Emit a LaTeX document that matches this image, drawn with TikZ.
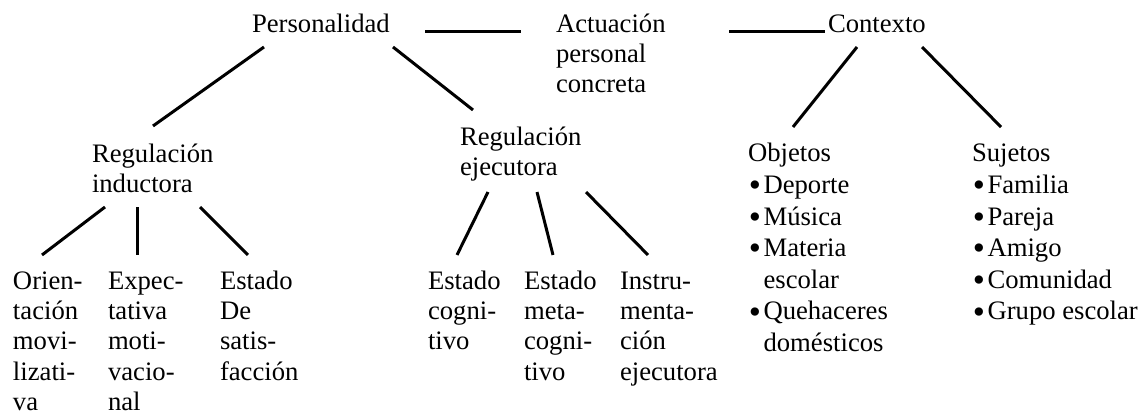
\documentclass[tikz,border=0pt]{standalone}
\usepackage{fontspec}
\setmainfont{Liberation Serif}
\usepackage{tikz}
\usetikzlibrary{positioning}
\tikzstyle{txt} = [inner sep=0pt, outer sep=0pt, align=left, anchor=north west, font=\fontsize{12}{13.7}\selectfont]
\tikzstyle{lst} = [txt, font=\fontsize{12}{14.2}\selectfont]
\tikzstyle{link} = [draw, line width=1.35pt]
\newcommand{\bul}{\makebox[7pt][l]{\hspace{0.4pt}\raisebox{-1.5pt}[0pt][0pt]{\scalebox{1.3}{\textbullet}}}}
\newcommand{\hang}{\hspace*{7pt}}

\begin{document}
\begin{tikzpicture}[auto]
\useasboundingbox (0pt,0pt) rectangle (513.45pt,-186.3pt);

% top row =============================
\node[txt] (pers) at (113.4pt,-4.815pt) {\strut Personalidad};
\node[txt, right=136.8pt of pers.north west, anchor=north west] (act) {\strut Actuación\\personal\\concreta};
\node[txt, right=122.4pt of act.north west, anchor=north west] (ctx) {\strut Contexto};

% regulation
\node[txt, below left=58.5pt and 72pt of pers.north west, anchor=north west] (rind) {\strut Regulación\\inductora};
\node[txt, below right=50.85pt and 93.6pt of pers.north west] (reje) {\strut Regulación\\ejecutora};

% context lists
\node[lst, below left=58.14pt and 36pt of ctx.north west, anchor=north west] (obj) {\strut Objetos\\\bul Deporte\\\bul Música\\\bul Materia\\\hang escolar\\\bul Quehaceres\\\hang domésticos};
\node[lst, below right=58.14pt and 64.8pt of ctx.north west] (suj) {\strut Sujetos\\\bul Familia\\\bul Pareja\\\bul Amigo\\\bul Comunidad\\\bul Grupo escolar};

% bottom row
\node[txt, below left=57.15pt and 35.55pt of rind.north west, anchor=north west] (ori) {\strut Orien-\\tación\\movi-\\lizati-\\va};
\node[txt, below right=57.15pt and 7.2pt of rind.north west] (expe) {\strut Expec-\\tativa\\moti-\\vacio-\\nal};
\node[txt, below right=57.15pt and 57.6pt of rind.north west] (sat) {\strut Estado\\De\\satis-\\facción};
\node[txt, below left=64.8pt and 14.4pt of reje.north west, anchor=north west] (cog) {\strut Estado\\cogni-\\tivo};
\node[txt, below right=64.8pt and 28.8pt of reje.north west] (meta) {\strut Estado\\meta-\\cogni-\\tivo};
\node[txt, below right=64.8pt and 72pt of reje.north west] (instr) {\strut Instru-\\menta-\\ción\\ejecutora};

%edges
\path[link] ([shift={(77.85pt,-9.14pt)}]pers.north west) -- ([shift={(-15.75pt,-9.14pt)}]act.north west);
\path[link] ([shift={(77.85pt,-9.14pt)}]act.north west) -- ([shift={(-1.35pt,-9.14pt)}]ctx.north west);

\path[link] ([shift={(5.4pt,-16.34pt)}]pers.north west) -- ([shift={(27.45pt,6.62pt)}]rind.north west);
\path[link] ([shift={(63.45pt,-16.34pt)}]pers.north west) -- ([shift={(5.85pt,6.17pt)}]reje.north west);
\path[link] ([shift={(13.05pt,-16.34pt)}]ctx.north west) -- ([shift={(20.25pt,5.8pt)}]obj.north west);
\path[link] ([shift={(42.3pt,-16.34pt)}]ctx.north west) -- ([shift={(13.05pt,5.8pt)}]suj.north west);

\path[link] ([shift={(5.85pt,-29.84pt)}]rind.north west) -- ([shift={(13.05pt,5.72pt)}]ori.north west);
\path[link] ([shift={(20.25pt,-29.84pt)}]rind.north west) -- ([shift={(13.05pt,5.72pt)}]expe.north west);
\path[link] ([shift={(48.6pt,-29.84pt)}]rind.north west) -- ([shift={(12.6pt,5.72pt)}]sat.north west);

\path[link] ([shift={(12.6pt,-30.74pt)}]reje.north west) -- ([shift={(13.05pt,5.72pt)}]cog.north west);
\path[link] ([shift={(34.65pt,-30.74pt)}]reje.north west) -- ([shift={(13.05pt,5.72pt)}]meta.north west);
\path[link] ([shift={(56.7pt,-30.74pt)}]reje.north west) -- ([shift={(12.6pt,5.72pt)}]instr.north west);

\end{tikzpicture}
\end{document}
